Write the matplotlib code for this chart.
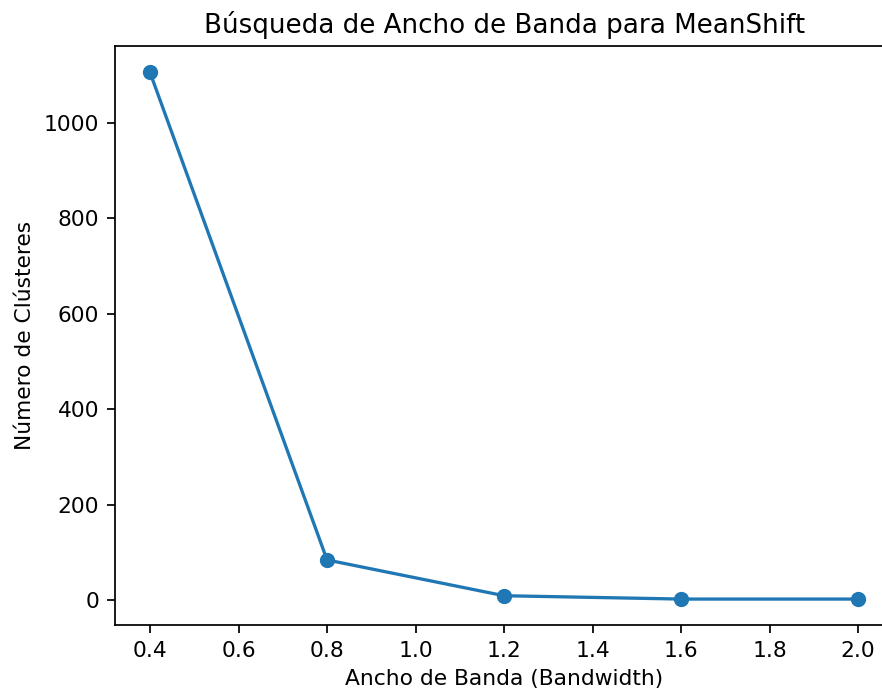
import matplotlib
matplotlib.use("Agg")
import matplotlib.pyplot as plt

bandwidths = [0.4, 0.8, 1.2, 1.6, 2.0]
n_clusters = [1106, 84, 9, 2, 2]

dpi = 157
fig = plt.figure(figsize=(882 / dpi, 693 / dpi), dpi=dpi)
# axes extends slightly past the right edge (reference is cropped there)
ax = fig.add_axes([114.6 / 882, 67.6 / 693, 779 / 882, 579.3 / 693])
ax.plot(bandwidths, n_clusters, marker="o")
ax.set_title("Búsqueda de Ancho de Banda para MeanShift")
ax.set_xlabel("Ancho de Banda (Bandwidth)")
ax.set_ylabel("Número de Clústeres")

fig.savefig("out.png", dpi=dpi)
